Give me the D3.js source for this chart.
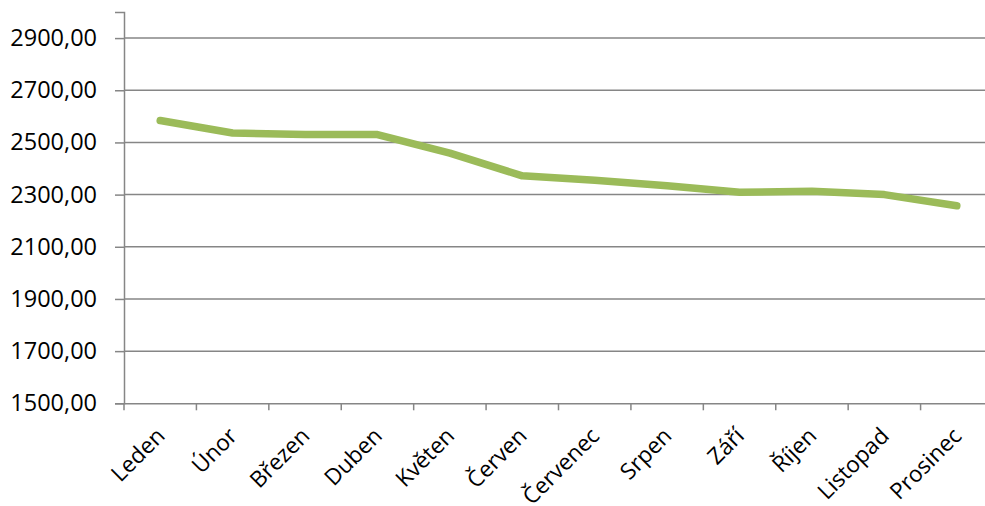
<!DOCTYPE html>
<html><head><meta charset="utf-8">
<script src="https://cdn.jsdelivr.net/npm/d3@7"></script>
<style>body{margin:0;background:#fff}svg{display:block}text{font-family:"Open Sans",sans-serif;fill:#000}</style>
</head><body><svg id="c" width="985" height="506"></svg>
<script>
const categories = ["Leden","Únor","Březen","Duben","Květen","Červen","Červenec","Srpen","Září","Říjen","Listopad","Prosinec"];
const values = [2584, 2536, 2530, 2530, 2459, 2372, 2355, 2334, 2309, 2313, 2300, 2257];
const yTicks = [1500, 1700, 1900, 2100, 2300, 2500, 2700, 2900];

(function () {
const svg = d3.select("#c");
const mLeft = 124, mRight = 993, mTop = 12, mBottom = 403.3;
const x = d3.scaleBand().domain(categories).range([mLeft, mRight]);
const y = d3.scaleLinear().domain([1500, 3000]).range([mBottom, mTop]);
const grey = "#868686";

// gridlines
svg.append("g").selectAll("line").data(yTicks.slice(1)).join("line")
  .attr("x1", mLeft).attr("x2", mRight)
  .attr("y1", d => y(d)).attr("y2", d => y(d))
  .attr("stroke", grey).attr("stroke-width", 1.5);

// y axis
const ya = svg.append("g").attr("transform", `translate(${mLeft},0)`)
  .call(d3.axisLeft(y).tickValues(yTicks).tickSize(9).tickPadding(18)
    .tickFormat(d => d3.format(".2f")(d).replace(".", ",")));
ya.select(".domain").attr("stroke", grey).attr("stroke-width", 1.5);
ya.selectAll(".tick line").attr("stroke", grey).attr("stroke-width", 1.5);
ya.selectAll(".tick text").attr("font-size", 23.5).attr("font-family", "Open Sans").attr("fill", "#000");

// x axis
const xa = svg.append("g").attr("transform", `translate(0,${mBottom})`)
  .call(d3.axisBottom(x).tickSize(0).tickFormat(""));
xa.select(".domain").attr("stroke", grey).attr("stroke-width", 1.5);
const bounds = categories.map(c => x(c)).concat([mRight]);
svg.append("g").selectAll("line").data(bounds).join("line")
  .attr("x1", d => d).attr("x2", d => d)
  .attr("y1", mBottom).attr("y2", mBottom + 7)
  .attr("stroke", grey).attr("stroke-width", 1.5);

svg.append("g").selectAll("text").data(categories).join("text")
  .attr("text-anchor", "end")
  .attr("font-size", 22.5)
  .attr("transform", d => `translate(${x(d) + x.bandwidth()/2 + 6},${mBottom + 34}) rotate(-45)`)
  .text(d => d);

// line
const line = d3.line().x((d, i) => x(categories[i]) + x.bandwidth()/2).y(d => y(d));
svg.append("path").datum(values).attr("d", line)
  .attr("fill", "none").attr("stroke", "#9BBB59").attr("stroke-width", 7.5)
  .attr("stroke-linecap", "round").attr("stroke-linejoin", "round");
})();
</script></body></html>
